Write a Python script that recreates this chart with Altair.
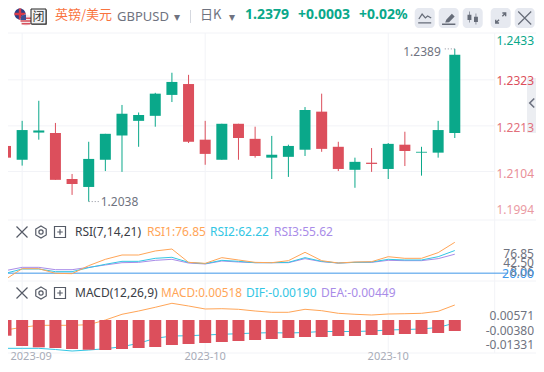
import altair as alt
import pandas as pd

# ---- candles (prices)
opens  = [1.2165,1.2132,1.2197,1.2196,1.2086,1.2067,1.2132,1.2190,1.2225,1.2237,1.2287,1.2313,1.2180,1.2132,1.2218,1.2182,1.2137,1.2139,1.2156,1.2247,1.2163,1.2108,1.2125,1.2110,1.2168,1.2149,1.2149,1.2196]
closes = [1.2137,1.2203,1.2202,1.2084,1.2074,1.2134,1.2194,1.2242,1.2239,1.2290,1.2318,1.2175,1.2146,1.2218,1.2184,1.2141,1.2144,1.2165,1.2251,1.2158,1.2110,1.2127,1.2122,1.2170,1.2153,1.2151,1.2203,1.2383]
highs  = [1.2165,1.2225,1.2273,1.2220,1.2098,1.2175,1.2194,1.2263,1.2245,1.2292,1.2340,1.2335,1.2225,1.2218,1.2218,1.2211,1.2189,1.2168,1.2258,1.2290,1.2175,1.2137,1.2160,1.2172,1.2199,1.2163,1.2225,1.2397]
lows   = [1.2108,1.2118,1.2180,1.2084,1.2048,1.2032,1.2105,1.2103,1.2163,1.2211,1.2270,1.2172,1.2120,1.2132,1.2132,1.2137,1.2086,1.2091,1.2141,1.2151,1.2105,1.2065,1.2103,1.2086,1.2117,1.2094,1.2137,1.2184]

rsi1 = [10.8,29.8,29.8,21.5,20.9,35.2,46.5,54.2,54.2,61.4,64.9,41.1,39.3,49.5,45.3,41.1,40.5,44.1,59.0,44.1,39.9,41.7,42.3,51.2,48.3,48.3,58.4,76.85]
rsi2 = [21.5,29.2,29.2,24.5,24.5,31.6,37.6,42.9,42.9,48.3,50.1,41.1,38.8,44.7,42.9,40.5,40.5,41.1,49.5,42.9,39.9,41.1,41.7,46.5,45.3,45.3,51.2,62.22]
rsi3 = [26.3,32.2,32.2,28.0,28.0,32.2,36.4,40.5,41.1,44.7,46.5,39.9,38.2,43.5,41.7,40.5,40.5,40.5,47.7,42.3,39.9,41.1,41.1,44.7,44.1,44.1,47.7,55.62]

macd = [-.00465,-.00358,-.00280,-.00280,-.00280,-.00256,-.00072,.00153,.00282,.00428,.00585,.00479,.00361,.00373,.00349,.00282,.00231,.00231,.00349,.00294,.00192,.00153,.00125,.00164,.00176,.00192,.00270,.00518]
dif  = [-.01184,-.01184,-.01184,-.01231,-.01290,-.01251,-.01200,-.01121,-.00987,-.00791,-.00700,-.00689,-.00661,-.00633,-.00610,-.00582,-.00570,-.00582,-.00563,-.00523,-.00523,-.00523,-.00504,-.00465,-.00445,-.00425,-.00366,-.00190]
hist = [-.00740,-.01225,-.01286,-.01319,-.01366,-.01399,-.01413,-.01366,-.01319,-.01272,-.01178,-.01130,-.01083,-.01036,-.00989,-.00942,-.00895,-.00848,-.00801,-.00801,-.00754,-.00754,-.00707,-.00707,-.00659,-.00659,-.00612,-.00518]

price_grid = [1.2323,1.2213,1.2104]
time_grid = [1,12,23]
time_labels = ["2023-09","2023-10","2023-10"]
rsi_ticks = [76.85,42.50,8.06]
macd_ticks = [0.00571,-0.00380,-0.01331]

GREEN="#0aa88a"; RED="#dc4f5c"; GRID="#f2f3f7"; GREY="#6f7380"; DARK="#3a3d46"
ORANGE="#ffa557"; CYAN="#33c6e4"; PURPLE="#a98ce8"; BLUE="#3f97e8"; FONT="Noto Sans"; CJK="Noto Sans CJK SC"

X = alt.Scale(domain=[0.15,31.88], nice=False, zero=False, padding=0)
def xe(f="i"): return alt.X(f"{f}:Q", scale=X, axis=None)
P = dict(domain=[1.1988,1.2435], range=[212,25], nice=False, zero=False)
def pe(f): return alt.Y(f"{f}:Q", scale=alt.Scale(**P), axis=None)

idx = list(range(28))
df = pd.DataFrame({"i":idx,"o":opens,"c":closes,"h":highs,"l":lows,"r1":rsi1,"r2":rsi2,"r3":rsi3,"m":macd,"d":dif,"b":hist})
df["lo"] = df[["o","c"]].min(axis=1); df["hi"] = df[["o","c"]].max(axis=1)
df["up"] = df.c >= df.o
one = pd.DataFrame({"t":[""]})

layers = []
def txt(t,x,y,size=12,color=GREY,weight="normal",align="left",font=FONT):
    layers.append(alt.Chart(pd.DataFrame({"t":[t]})).mark_text(fontSize=size,color=color,fontWeight=weight,align=align,baseline="middle",font=font)
        .encode(text="t:N",x=alt.value(x-8),y=alt.value(y-8)))
def icon(path,x,y,side,color=GREY,filled=False,sw=1.2):
    kw = dict(fill=color,stroke=None,filled=True,opacity=1) if filled else dict(stroke=color,strokeWidth=sw,filled=False,opacity=1)
    layers.append(alt.Chart(one).mark_point(shape=path,size=side*side,**kw).encode(x=alt.value(x-8),y=alt.value(y-8)))
def box(x0,y0,x1,y1,color,radius=0,**kw):
    layers.append(alt.Chart(one).mark_rect(color=color,cornerRadius=radius,**kw).encode(x=alt.value(x0-8),x2=alt.value(x1-8),y=alt.value(y0-8),y2=alt.value(y1-8)))
def hline(y,x0,x1,color=GRID):
    layers.append(alt.Chart(one).mark_rule(color=color,strokeWidth=1).encode(x=alt.value(x0-8),x2=alt.value(x1-8),y=alt.value(y-8)))

# ---- frame and grid
hline(33,0,540)
hline(220,0,540)
hline(281,0,540)
hline(353,0,540)
layers.append(alt.Chart(one).mark_rule(color=GRID).encode(x=alt.value(494.7-8),y=alt.value(25),y2=alt.value(345)))
layers.append(alt.Chart(pd.DataFrame({"i":time_grid})).mark_rule(color=GRID).encode(x=xe(),y=alt.value(25),y2=alt.value(345)))
layers.append(alt.Chart(pd.DataFrame({"v":price_grid})).mark_rule(color=GRID).encode(y=pe("v"),x=alt.value(0),x2=alt.value(487)))

# ---- candles
col = alt.Color("up:N",scale=alt.Scale(domain=[True,False],range=[GREEN,RED]),legend=None)
layers.append(alt.Chart(df).mark_rule(strokeWidth=1).encode(x=xe(),y=pe("l"),y2="h:Q",color=col))
layers.append(alt.Chart(df).mark_bar(size=11,orient="vertical").encode(x=xe(),y=pe("lo"),y2="hi:Q",color=col))

# ---- extreme markers
hi_mark = pd.DataFrame({"i":[27],"j":[26.35],"p":[1.2397]})
lo_mark = pd.DataFrame({"i":[5],"j":[5.65],"p":[1.2032]})
for m in (hi_mark,lo_mark):
    layers.append(alt.Chart(m).mark_rule(color="#8a8e9a",strokeDash=[1,2]).encode(x=xe(),x2="j:Q",y=pe("p")))
layers.append(alt.Chart(pd.DataFrame({"i":[27],"p":[1.2389],"t":["1.2389"]})).mark_text(align="right",dx=-14,fontSize=12,color=GREY,font=FONT,baseline="middle").encode(x=xe(),y=pe("p"),text="t:N"))
layers.append(alt.Chart(pd.DataFrame({"i":[5],"p":[1.2038],"t":["1.2038"]})).mark_text(align="left",dx=12,dy=3,fontSize=12,color=GREY,font=FONT,baseline="middle").encode(x=xe(),y=pe("p"),text="t:N"))

# ---- price labels
RIGHT = 534
def plabel(v,t,color,dy=0):
    layers.append(alt.Chart(pd.DataFrame({"v":[v],"t":[t]})).mark_text(align="right",fontSize=12,color=color,dy=dy,font=FONT,baseline="middle")
        .encode(x=alt.value(RIGHT-8),y=pe("v"),text="t:N"))
box(527,78,536,133,"#eceef2")
plabel(1.2433,"1.2433",GREEN,7)
plabel(1.2323,"1.2323",RED,1)
plabel(1.2213,"1.2213","#e2707b",2)
plabel(1.2104,"1.2104","#e98f97",3)
plabel(1.1994,"1.1994","#ea9aa2",-7)
icon("M0.5,-1 L-0.5,0 L0.5,1",532,103,9,"#6d7280",False,1.6)

# ---- RSI panel
R = alt.Scale(domain=[7.8,116.7],range=[273,212],nice=False,zero=False)
layers.append(alt.Chart(pd.DataFrame({"v":[20.0]})).mark_rule(color=BLUE,strokeWidth=1).encode(y=alt.Y("v:Q",scale=alt.Scale(domain=[7.8,116.7],range=[272,211],nice=False,zero=False),axis=None),x=alt.value(0),x2=alt.value(500)))
for f,c in (("r3",PURPLE),("r2",CYAN),("r1",ORANGE)):
    layers.append(alt.Chart(df).mark_line(color=c,strokeWidth=1).encode(x=xe(),y=alt.Y(f"{f}:Q",scale=R,axis=None)))
RL = alt.Scale(domain=[8.06,76.85],range=[264,246],nice=False,zero=False)
layers.append(alt.Chart(pd.DataFrame({"v":rsi_ticks,"t":[f"{v:.2f}" for v in rsi_ticks]})).mark_text(align="right",fontSize=12,color=GREY,font=FONT,baseline="middle").encode(x=alt.value(RIGHT-8),y=alt.Y("v:Q",scale=RL,axis=None),text="t:N"))
txt("20.00",RIGHT,273.5,12.5,BLUE,align="right")

# ---- MACD panel
ML = alt.Scale(domain=[-.01368,.01461],range=[345,273],nice=False,zero=False)
for f,c in (("m",ORANGE),("d",CYAN)):
    layers.append(alt.Chart(df).mark_line(color=c,strokeWidth=1).encode(x=xe(),y=alt.Y(f"{f}:Q",scale=ML,axis=None)))
MB = alt.Scale(domain=[-.01554,.01837],range=[345,273],nice=False,zero=False)
layers.append(alt.Chart(df).mark_bar(size=12,color=RED,orient="vertical").encode(x=xe(),y=alt.Y("b:Q",scale=MB,axis=None,stack=None)))
MT = alt.Scale(domain=[-.01331,.00571],range=[337,308],nice=False,zero=False)
layers.append(alt.Chart(pd.DataFrame({"v":macd_ticks,"t":["0.00571","-0.00380","-0.01331"]})).mark_text(align="right",fontSize=12,color=GREY,font=FONT,baseline="middle").encode(x=alt.value(RIGHT-8),y=alt.Y("v:Q",scale=MT,axis=None),text="t:N"))

# ---- time labels
tl = pd.DataFrame({"i":time_grid,"t":time_labels,"s":[9,0,0]})
for k in range(3):
    layers.append(alt.Chart(tl.iloc[[k]]).mark_text(fontSize=11,color="#a8acb8",font=FONT,baseline="middle",dx=int(tl.s[k])).encode(x=xe(),y=alt.value(356.5-8),text="t:N"))

# ---- panel titles
X_ICON="M-1,-1 L1,1 M-1,1 L1,-1"
HEX="M0,-1 L0.87,-0.5 L0.87,0.5 L0,1 L-0.87,0.5 L-0.87,-0.5 Z M0.35,0 A0.35,0.35 0 1,0 -0.35,0 A0.35,0.35 0 1,0 0.35,0 Z"
PLUS="M-1,-1 H1 V1 H-1 Z M-0.5,0 H0.5 M0,-0.5 V0.5"
for y in (232,293):
    icon(X_ICON,22,y,11,"#555a66")
    icon(HEX,41,y,12,"#555a66")
    icon(PLUS,60,y,11,"#555a66")
txt("RSI(7,14,21)",75,232,12,DARK)
txt("RSI1:76.85",147,232,12,ORANGE)
txt("RSI2:62.22",210,232,12,CYAN)
txt("RSI3:55.62",274,232,12,PURPLE)
txt("MACD(12,26,9)",75,293,12,DARK)
txt("MACD:0.00518",161,293,11.8,ORANGE)
txt("DIF:-0.00190",246,293,12,CYAN)
txt("DEA:-0.00449",321,293,12,PURPLE)

# ---- header
icon("M-1,0 A1,1 0 1,0 1,0 A1,1 0 1,0 -1,0 Z",20,14,11,"#2c3f86",True)
icon("M-1,-0.22 H1 V0.22 H-1 Z M-0.22,-1 H0.22 V1 H-0.22 Z",20,14,11,"#d83a48",True)
icon("M-1,0 A1,1 0 1,0 1,0 A1,1 0 1,0 -1,0 Z",26,20,11,"#f3e4e6",True)
icon("M-0.9,-0.45 H0.9 V-0.2 H-0.9 Z M-1,0.05 H1 V0.3 H-1 Z M-0.8,0.55 H0.8 V0.8 H-0.8 Z",26,20,11,"#d8505c",True)
icon("M-0.9,-0.5 A1,1 0 0,1 0,-1 V0 H-1 Z",26,20,11,"#3c4f94",True)
box(32,10,47,25,"#8d8d8d")
box(31,9,46,24,"#f1f2f3",stroke="#222222",strokeWidth=1)
txt("闭",38.5,16.5,12,"#333333",align="center",font=CJK)
txt("英镑/美元",55,15,13,"#f9743f",font=CJK)
txt("GBPUSD",117,17,13,GREY)
txt("▾",177,17,12,GREY,align="center",font="DejaVu Sans")
box(190,10,191,23,"#d5d8df")
txt("日K",200,15,13,GREY,font=CJK)
txt("▾",232,17,12,GREY,align="center",font="DejaVu Sans")
txt("1.2379",245,15,14,GREEN,"bold")
txt("+0.0003",298,15,14,GREEN,"bold")
txt("+0.02%",359,15,14,GREEN,"bold")
for cx in (424.7,448.7,472.7,500.7,524.7):
    box(cx-10,8,cx+10,28,"#e6e9f0",radius=4)
icon("M-1,0.75 H1 M-0.9,0.15 L-0.4,-0.6 L0.1,0 L0.45,-0.3 L1,0",424.7,18,13,"#666c78")
icon("M-0.35,0.25 L0.45,-0.6 L0.85,-0.2 L0.05,0.6 L-0.5,0.65 Z M-0.95,0.8 H0.95 V1 H-0.95 Z",448.7,18,14,"#666c78",True)
icon("M-0.8,-0.5 H-0.2 V0.3 H-0.8 Z M-0.55,-1 H-0.45 V0.7 H-0.55 Z M0.2,-0.2 H0.8 V0.6 H0.2 Z M0.45,-0.7 H0.55 V1 H0.45 Z",472.7,18,13,"#666c78",True)
icon("M-0.3,0.3 L-0.9,0.9 M-0.9,0.3 V0.9 H-0.3 M0.3,-0.3 L0.9,-0.9 M0.3,-0.9 H0.9 V-0.3",500.7,18,11,"#666c78",False,1.4)
icon(X_ICON,524.7,18,13,"#666c78",False,1.2)

chart = alt.layer(*layers).resolve_scale(y="independent").properties(
    width=528,height=356,padding=0,autosize=alt.AutoSizeParams(type="none",contains="padding")
).configure_view(stroke=None)

chart.save("out.html", embed_options={"renderer": "svg", "actions": False})
